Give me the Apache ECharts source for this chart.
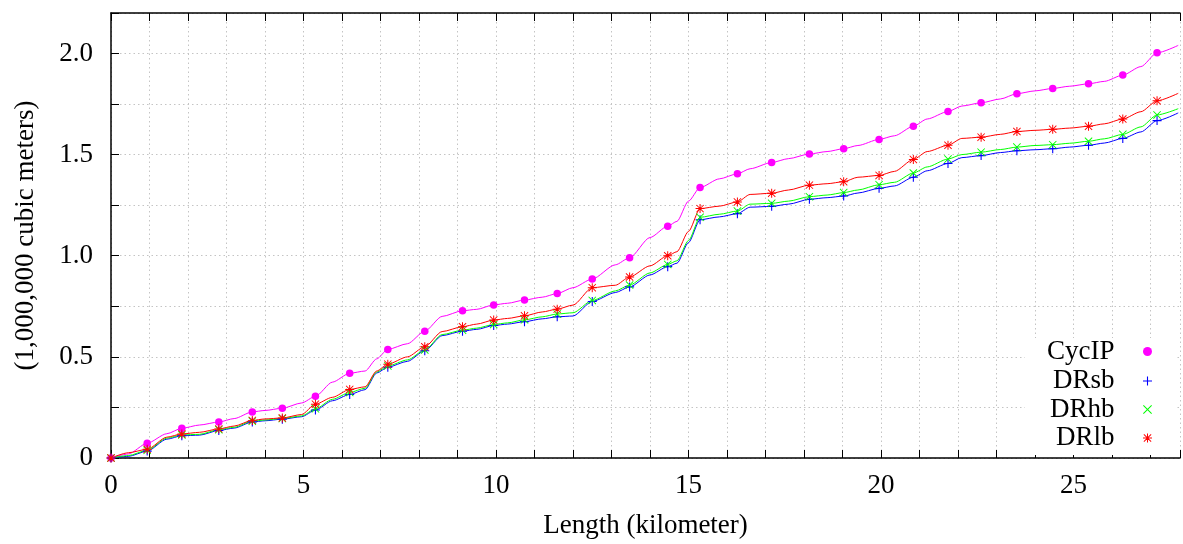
<!DOCTYPE html>
<html>
<head>
<meta charset="utf-8">
<script src="https://cdn.jsdelivr.net/npm/echarts@6/dist/echarts.min.js"></script>
<style>
html,body{margin:0;padding:0;background:#fff;}
#chart{width:1183px;height:544px;}
</style>
</head>
<body>
<div id="chart"></div>
<script>
// ---- data ----
const seriesNames = ['CycIP', 'DRsb', 'DRhb', 'DRlb'];
const seriesColors = ['#ff00ff', '#0000ff', '#00ff00', '#ff0000'];

// positions (km) where the point markers are drawn
const markerKm = [0, 0.94, 1.84, 2.80, 3.67, 4.45, 5.31, 6.20, 7.19, 8.15, 9.13, 9.94, 10.74, 11.59, 12.50, 13.47, 14.46, 15.30, 16.27, 17.16, 18.14, 19.03, 19.95, 20.84, 21.74, 22.60, 23.53, 24.46, 25.39, 26.28, 27.17];
const cycipMarkers = [0, 0.073, 0.147, 0.178, 0.228, 0.246, 0.305, 0.419, 0.537, 0.627, 0.728, 0.757, 0.781, 0.813, 0.885, 0.990, 1.146, 1.337, 1.405, 1.461, 1.503, 1.529, 1.575, 1.640, 1.713, 1.756, 1.801, 1.827, 1.850, 1.893, 2.003];
const drsbMarkers  = [0, 0.034, 0.110, 0.136, 0.178, 0.192, 0.237, 0.314, 0.449, 0.530, 0.627, 0.655, 0.674, 0.698, 0.774, 0.846, 0.946, 1.178, 1.208, 1.244, 1.279, 1.295, 1.333, 1.388, 1.456, 1.495, 1.519, 1.529, 1.546, 1.580, 1.668];
const drhbMarkers  = [0, 0.038, 0.114, 0.140, 0.182, 0.195, 0.243, 0.324, 0.455, 0.534, 0.632, 0.660, 0.683, 0.712, 0.779, 0.855, 0.957, 1.190, 1.221, 1.259, 1.292, 1.312, 1.351, 1.409, 1.478, 1.512, 1.537, 1.549, 1.566, 1.600, 1.696];
const drlbMarkers  = [0, 0.043, 0.119, 0.144, 0.186, 0.198, 0.266, 0.339, 0.464, 0.550, 0.649, 0.682, 0.703, 0.736, 0.842, 0.895, 1.000, 1.233, 1.266, 1.309, 1.349, 1.366, 1.397, 1.476, 1.546, 1.586, 1.614, 1.625, 1.640, 1.676, 1.766];

// additional curve points between the markers (km)
const midKm = [0.45, 1.45, 2.3, 3.2, 4.0, 4.95, 5.75, 6.6, 6.9, 7.7, 8.6, 9.5, 10.3, 11.2, 12.0, 13.1, 14.0, 14.7, 15.0, 15.8, 16.6, 17.6, 18.6, 19.4, 20.35, 21.2, 22.1, 23.1, 24.0, 24.9, 25.8, 26.75, 27.72];
const cycipMid = [0.020, 0.120, 0.163, 0.195, 0.235, 0.272, 0.375, 0.430, 0.490, 0.565, 0.700, 0.735, 0.765, 0.795, 0.842, 0.955, 1.090, 1.170, 1.270, 1.380, 1.430, 1.480, 1.515, 1.545, 1.593, 1.676, 1.740, 1.775, 1.815, 1.838, 1.862, 1.935, 2.040];
const drsbMid  = [0.008, 0.093, 0.113, 0.148, 0.184, 0.204, 0.283, 0.338, 0.420, 0.478, 0.605, 0.636, 0.662, 0.688, 0.702, 0.818, 0.905, 0.963, 1.065, 1.192, 1.240, 1.255, 1.287, 1.310, 1.345, 1.420, 1.485, 1.510, 1.524, 1.537, 1.557, 1.612, 1.706];
const drhbMid  = [0.012, 0.098, 0.117, 0.152, 0.188, 0.208, 0.290, 0.345, 0.425, 0.485, 0.610, 0.642, 0.668, 0.698, 0.718, 0.826, 0.915, 0.975, 1.075, 1.205, 1.255, 1.270, 1.300, 1.325, 1.363, 1.439, 1.500, 1.525, 1.545, 1.556, 1.578, 1.637, 1.727];
const drlbMid  = [0.026, 0.103, 0.127, 0.158, 0.193, 0.215, 0.300, 0.352, 0.430, 0.500, 0.625, 0.662, 0.690, 0.722, 0.756, 0.854, 0.950, 1.020, 1.120, 1.245, 1.303, 1.325, 1.356, 1.388, 1.417, 1.515, 1.580, 1.600, 1.620, 1.631, 1.652, 1.712, 1.803];

const xTickLabels = ['0', '5', '10', '15', '20', '25'];
const yTickLabels = ['0', '0.5', '1.0', '1.5', '2.0'];
const xTitle = 'Length (kilometer)';
const yTitle = '(1,000,000 cubic meters)';

// ---- build ----
const markerVals = [cycipMarkers, drsbMarkers, drhbMarkers, drlbMarkers];
const midVals = [cycipMid, drsbMid, drhbMid, drlbMid];

function mergePts(mk, mv, dk, dv) {
  const pts = mk.map((x, i) => [x, mv[i]]).concat(dk.map((x, i) => [x, dv[i]]));
  pts.sort((a, b) => a[0] - b[0]);
  return pts;
}

const symPlus = 'path://M4.4,0H5.6V4.4H10V5.6H5.6V10H4.4V5.6H0V4.4H4.4Z';
const symCross = 'path://M0,0.8L0.8,0L5,4.2L9.2,0L10,0.8L5.8,5L10,9.2L9.2,10L5,5.8L0.8,10L0,9.2L4.2,5Z';
const symStar = 'path://M4.45,0H5.55V4.45H10V5.55H5.55V10H4.45V5.55H0V4.45H4.45Z M0.6,1.3L1.3,0.6L5,4.3L8.7,0.6L9.4,1.3L5.7,5L9.4,8.7L8.7,9.4L5,5.7L1.3,9.4L0.6,8.7L4.3,5Z';
const symbols = ['circle', symPlus, symCross, symStar];
const symSizes = [7.5, 9, 8, 9];

const FONT = 'Liberation Serif';
const gridLeft = 111, gridTop = 13, gridW = 1074, gridH = 450;
const pxPerKm = 38.68;
const xMax = +(gridW / pxPerKm).toFixed(3);

const gridLine = { show: true, lineStyle: { color: '#c4c4c4', width: 1, type: [1.5, 3] } };

const lineSeries = seriesNames.map((n, i) => ({
  name: n + ' line',
  type: 'line',
  data: mergePts(markerKm, markerVals[i], midKm, midVals[i]),
  showSymbol: false,
  smooth: 0.25,
  smoothMonotone: 'x',
  lineStyle: { color: seriesColors[i], width: 1 },
  itemStyle: { color: seriesColors[i] },
  silent: true,
  z: 3
}));
const pointSeries = seriesNames.map((n, i) => ({
  name: n,
  type: 'scatter',
  data: markerKm.map((x, j) => [x, markerVals[i][j]]),
  symbol: symbols[i],
  symbolSize: symSizes[i],
  itemStyle: { color: seriesColors[i], opacity: 1 },
  silent: true,
  z: 4
}));

const legendRowsY = [352, 381.5, 410, 438.5];
const legends = seriesNames.map((n, i) => ({
  data: [n],
  orient: 'horizontal',
  align: 'right',
  right: 31,
  top: legendRowsY[i] - 14,
  padding: 0,
  itemWidth: 56,
  itemHeight: 9,
  itemGap: 0,
  selectedMode: false,
  textStyle: { fontFamily: FONT, fontSize: 27, color: '#000', padding: 0 }
}));

const chart = echarts.init(document.getElementById('chart'), null, { renderer: 'canvas' });
chart.setOption({
  animation: false,
  backgroundColor: '#fff',
  grid: { left: gridLeft, top: gridTop, width: gridW, height: gridH, containLabel: false },
  legend: legends,
  graphic: [{
    type: 'rect', z: 1,
    shape: { x: 1025, y: 338, width: 152, height: 117 },
    style: { fill: '#fff' }
  }],
  xAxis: [{
    type: 'value', position: 'bottom', min: 0, max: xMax, interval: 1,
    name: xTitle, nameLocation: 'middle', nameGap: 54,
    nameTextStyle: { fontFamily: FONT, fontSize: 27, color: '#000' },
    axisLine: { show: true, onZero: false, lineStyle: { color: '#000', width: 1.5 } },
    axisTick: { show: true, inside: true, length: 8, lineStyle: { color: '#000', width: 1 } },
    axisLabel: {
      show: true, margin: 14, fontFamily: FONT, fontSize: 27, color: '#000',
      formatter: v => { const k = Math.round(v); return (Math.abs(v - k) < 1e-6 && k % 5 === 0) ? xTickLabels[k / 5] : ''; }
    },
    splitLine: gridLine
  }, {
    type: 'value', position: 'top', min: 0, max: xMax, interval: 1,
    axisLine: { show: true, onZero: false, lineStyle: { color: '#000', width: 1.5 } },
    axisTick: { show: true, inside: true, length: 8, lineStyle: { color: '#000', width: 1 } },
    axisLabel: { show: false },
    splitLine: { show: false }
  }],
  yAxis: [{
    type: 'value', position: 'left', min: 0, max: 2.2, interval: 0.25,
    name: yTitle, nameLocation: 'middle', nameRotate: 90, nameGap: 72,
    nameTextStyle: { fontFamily: FONT, fontSize: 27, color: '#000' },
    axisLine: { show: true, onZero: false, lineStyle: { color: '#000', width: 1.5 } },
    axisTick: { show: true, inside: true, length: 8, lineStyle: { color: '#000', width: 1 } },
    axisLabel: {
      show: true, margin: 18, fontFamily: FONT, fontSize: 27, color: '#000',
      formatter: v => { const k = Math.round(v * 2); return (Math.abs(v * 2 - k) < 1e-6 && k <= 4) ? yTickLabels[k] : ''; }
    },
    splitLine: gridLine
  }],
  series: lineSeries.concat(pointSeries)
});
</script>
</body>
</html>
